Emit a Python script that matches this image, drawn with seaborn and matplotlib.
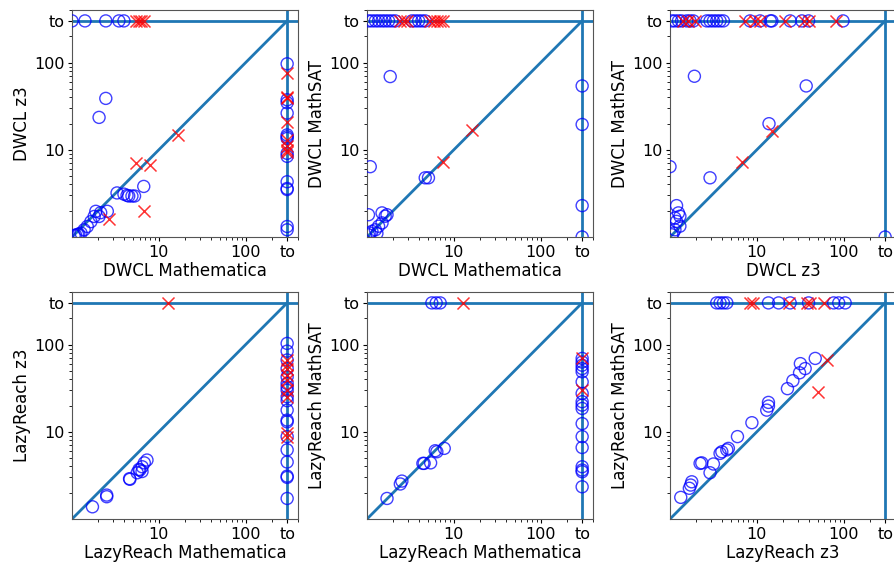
import matplotlib
matplotlib.use("Agg")
import matplotlib.pyplot as plt
import seaborn as sns

TO = 300  # timeout value, shown as "to"

# DWCL Mathematica (x) vs DWCL z3 (y)
p1_circ_x = [1.0, 1.41, 2.45, 3.47, 3.96, TO, TO, TO, TO, TO, TO, TO, TO, TO, TO, TO, TO, TO, TO,
             2.45, 2.05, 6.7, 3.3, 3.96, 4.3, 4.5, 4.9, 5.25,
             1.88, 2.14, 2.55, 2.05, 1.8, 1.65, 1.5, 1.38, 1.27, 1.16, 1.06, 1.1, 1.2]
p1_circ_y = [TO, TO, TO, TO, TO, 96.7, 1.21, 1.32, 4.3, 3.6, 3.5, 8.4, 9.1, 14.1, 14.8, 13.5, 26.3, 37.4, 34.6,
             38.8, 23.5, 3.8, 3.2, 3.1, 3.0, 2.95, 2.95, 2.95,
             1.97, 1.9, 1.97, 1.72, 1.72, 1.5, 1.32, 1.21, 1.11, 1.07, 1.04, 1.05, 1.08]
p1_x_x = [5.4, 5.9, 6.25, 6.7, TO, TO, TO, TO, TO, TO, TO, TO, 5.4, 7.86, 16.8, 6.8, 2.67]
p1_x_y = [TO, TO, TO, TO, 75, 40.7, 39, 21, 10.9, 10, 9.5, 13, 7.1, 6.7, 14.8, 2.0, 1.6]

# DWCL Mathematica (x) vs DWCL MathSAT (y)
p2_circ_x = [1.04, 1.14, 1.25, 1.36, 1.49, 1.62, 1.77, 1.94, 2.12, 3.29, 3.6, 3.93, 4.29, 4.68,
             TO, TO, TO, TO, 1.85, 1.09, 4.68, 5.1,
             1.04, 1.49, 1.62, 1.7, 1.49, 1.36, 1.25, 1.14, 1.08, 1.04, 1.3]
p2_circ_y = [TO, TO, TO, TO, TO, TO, TO, TO, TO, TO, TO, TO, TO, TO,
             53.9, 19.5, 2.29, 1.0, 69, 6.4, 4.77, 4.77,
             1.8, 1.89, 1.73, 1.8, 1.45, 1.33, 1.21, 1.16, 1.11, 1.06, 1.1]
p2_x_x = [2.42, 2.64, 2.88, 5.34, 5.83, 6.37, 6.96, 7.48, 7.48, 16.1]
p2_x_y = [TO, TO, TO, TO, TO, TO, TO, TO, 7.3, 16.8]

# DWCL z3 (x) vs DWCL MathSAT (y)
p3_circ_x = [1.05, 1.14, 1.25, 1.36, 1.56, 1.70, 1.86, 2.65, 2.89, 3.16, 3.45, 3.77, 4.12, 8.36, 10.9,
             14.3, 14.9, 24.2, 33.0, 39.4, 98.2, TO,
             1.91, 37.0, 13.8, 2.89, 1.0,
             1.19, 1.25, 1.14, 1.3, 1.19, 1.3, 1.14, 1.09, 1.05]
p3_circ_y = [TO, TO, TO, TO, TO, TO, TO, TO, TO, TO, TO, TO, TO, TO, TO,
             TO, TO, TO, TO, TO, TO, 1.0,
             69.6, 53.9, 19.9, 4.77, 6.4,
             2.29, 1.89, 1.65, 1.73, 1.51, 1.33, 1.21, 1.11, 1.06]
p3_x_x = [1.43, 1.63, 1.94, 7.34, 9.6, 10.9, 21.2, 34.5, 39.4, 82, 14.9, 6.7]
p3_x_y = [TO, TO, TO, TO, TO, TO, TO, TO, TO, TO, 16.6, 7.3]

# LazyReach Mathematica (x) vs LazyReach z3 (y)
p4_circ_x = [TO] * 19 + [1.72, 2.51, 2.51, 4.64, 4.6, 5.63, 6.04, 6.43, 6.8, 7.3, 6.4, 5.9]
p4_circ_y = [103, 84, 66.5, 53, 42.6, 35.8, 32.7, 29.9, 25.2, 22.7, 17.7, 13.6, 13.0, 8.8, 6.2, 4.5, 3.1, 3.0, 1.72,
             1.38, 1.88, 1.8, 2.85, 2.9, 3.39, 3.64, 3.97, 4.4, 4.74, 3.5, 3.7]
p4_x_x = [12.6, TO, TO, TO, TO, TO, TO, TO, TO, TO]
p4_x_y = [TO, 66.5, 58, 53, 44.5, 39, 29.9, 25.2, 9.6, 8.8]

# LazyReach Mathematica (x) vs LazyReach MathSAT (y)
p5_circ_x = [5.58, 6.26, 6.96] + [TO] * 17 + [1.7, 2.42, 2.52, 4.4, 4.55, 5.4, 6.1, 6.37, 7.75]
p5_circ_y = [TO, TO, TO, 69.3, 63, 57.9, 53, 48.7, 37.3, 27.5, 22.1, 20.2, 18.5, 12.4, 8.8, 6.6, 3.97, 3.64, 3.48, 2.34,
             1.72, 2.52, 2.72, 4.34, 4.34, 4.4, 6.06, 5.9, 6.45]
p5_x_x = [12.6, TO, TO]
p5_x_y = [TO, 69.3, 29.9]

# LazyReach z3 (x) vs LazyReach MathSAT (y)
p6_circ_x = [3.45, 3.77, 4.12, 4.51, 13.6, 17.8, 24.2, 39.4, 76.6, 87.6, 104,
             1.33, 1.67, 1.78, 1.73, 2.89, 2.22, 2.32, 3.16, 3.77, 3.95, 4.7, 4.51, 5.98, 8.77,
             13.0, 13.6, 13.6, 22.5, 26, 31, 31.7, 36, 47]
p6_circ_y = [TO, TO, TO, TO, TO, TO, TO, TO, TO, TO, TO,
             1.77, 2.25, 2.67, 2.45, 3.39, 4.34, 4.4, 4.27, 5.65, 5.9, 6.45, 6.2, 8.8, 12.7,
             17.7, 19.7, 21.7, 31.2, 38.5, 47.4, 60.4, 53, 69.3]
p6_x_x = [8.4, 8.98, 23.2, 37.7, 40.5, 59.6, 64, 51]
p6_x_y = [TO, TO, TO, TO, TO, TO, 66.5, 28.7]

panels = [
    ("DWCL Mathematica", "DWCL z3", p1_circ_x, p1_circ_y, p1_x_x, p1_x_y),
    ("DWCL Mathematica", "DWCL MathSAT", p2_circ_x, p2_circ_y, p2_x_x, p2_x_y),
    ("DWCL z3", "DWCL MathSAT", p3_circ_x, p3_circ_y, p3_x_x, p3_x_y),
    ("LazyReach Mathematica", "LazyReach z3", p4_circ_x, p4_circ_y, p4_x_x, p4_x_y),
    ("LazyReach Mathematica", "LazyReach MathSAT", p5_circ_x, p5_circ_y, p5_x_x, p5_x_y),
    ("LazyReach z3", "LazyReach MathSAT", p6_circ_x, p6_circ_y, p6_x_x, p6_x_y),
]

fig, axes = plt.subplots(2, 3, figsize=(8.95, 5.66), dpi=100)
lefts = [72 / 895, 367 / 895, 670 / 895]
bottoms = [1 - 237 / 566, 1 - 519 / 566]
w, h = 226 / 895, 227 / 566

for i, (xl, yl, cx, cy, xx, xy) in enumerate(panels):
    ax = axes.flat[i]
    ax.set_position([lefts[i % 3], bottoms[i // 3], w, h])
    ax.set_xscale("log")
    ax.set_yscale("log")
    ax.set_xlim(1, 400)
    ax.set_ylim(1, 400)

    ax.plot([1, TO], [1, TO], color="#1f77b4", lw=2)
    ax.axhline(TO, color="#1f77b4", lw=2)
    ax.axvline(TO, color="#1f77b4", lw=2)

    sns.scatterplot(x=cx, y=cy, ax=ax, marker="o", s=75, fc="none", ec="blue",
                    linewidth=1, alpha=0.75, zorder=3)
    sns.scatterplot(x=xx, y=xy, ax=ax, marker="x", s=75, color="red",
                    linewidth=1.1, alpha=0.8, zorder=3)

    ax.set_xticks([10, 100, TO])
    ax.set_xticklabels(["10", "100", "to"])
    ax.set_yticks([10, 100, TO])
    ax.set_yticklabels(["10", "100", "to"])
    ax.tick_params(which="major", labelsize=11.5, length=3, pad=2.5)
    ax.tick_params(which="minor", length=2)
    for sp in ax.spines.values():
        sp.set_color("#555555")
    ax.set_xlabel(xl, fontsize=12, labelpad=1.5)
    ax.set_ylabel(yl, fontsize=12, labelpad=2)

fig.savefig("out.png", dpi=100)
